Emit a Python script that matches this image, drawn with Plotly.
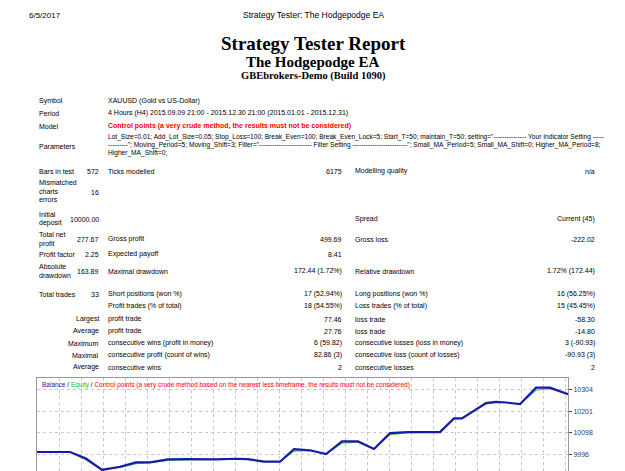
import plotly.graph_objects as go

# chart data
step = [0, 33, 49, 65, 83, 99, 113, 131, 151, 171, 179, 199, 211, 227, 243, 257,
        273, 289, 305, 321, 337, 353, 371, 403, 417, 425, 449, 459, 469, 483, 499, 513, 531]
balance = [10008, 10008, 9977, 9923, 9938, 9959, 9959, 9973, 9974, 9973, 9973, 9976, 9974,
           9962, 9962, 10021, 10016, 9998, 10058, 10058, 10022, 10097, 10102, 10102, 10167,
           10167, 10239, 10245, 10242, 10234, 10312, 10312, 10281]
equity = [10008, 10008, 9970, 9926, 9934, 9953, 9958, 9968, 9970, 9972, 9973, 9974, 9972,
          9962, 9962, 10012, 10015, 9998, 10050, 10055, 10022, 10090, 10100, 10102, 10165,
          10167, 10236, 10243, 10242, 10234, 10300, 10308, 10281]
y_ticks = [9996, 10098, 10201, 10304]

W, H = 625, 471
L, R, T = 37, 568, 378


def px(x):
    return (x - L) / (R - L)


def py(y):
    return (H - y) / (H - T)


fig = go.Figure()
fig.add_trace(go.Scatter(x=step, y=equity, mode="lines", line=dict(color="#44cc44", width=1.2)))
fig.add_trace(go.Scatter(x=step, y=balance, mode="lines", line=dict(color="#1a1aaa", width=2.2)))

notes = []


def txt(x, y, s, size=7, color="#000", anchor="left", bold=False, font="Liberation Sans"):
    if bold:
        s = "<b>" + s + "</b>"
    notes.append(dict(x=px(x), y=py(y), xref="paper", yref="paper", text=s, showarrow=False,
                      xanchor=anchor, yanchor="middle", align=anchor,
                      font=dict(size=size, color=color, family=font)))


txt(27, 15, "6/5/2017", 8)
txt(313, 15, "Strategy Tester: The Hodgepodge EA", 8.5, anchor="center")
txt(313, 44, "Strategy Tester Report", 19, anchor="center", bold=True, font="Liberation Serif")
txt(313, 62, "The Hodgepodge EA", 15, anchor="center", bold=True, font="Liberation Serif")
txt(313, 76, "GBEbrokers-Demo (Build 1090)", 10.5, anchor="center", bold=True, font="Liberation Serif")

txt(37, 101, "Symbol")
txt(106, 101, "XAUUSD (Gold vs US-Dollar)")
txt(37, 113, "Period")
txt(106, 113, "4 Hours (H4) 2015.09.09 21:00 - 2015.12.30 21:00 (2015.01.01 - 2015.12.31)")
txt(37, 126, "Model")
txt(106, 126, "Control points (a very crude method, the results must not be considered)", color="red", bold=True)
txt(37, 146, "Parameters")
txt(106, 137, "Lot_Size=0.01; Add_Lot_Size=0.05; Stop_Loss=100; Break_Even=100; Break_Even_Lock=5; Start_T=50; maintain_T=50; setting=\"--------------- Your Indicator Setting -----", 6.6)
txt(106, 145, "---------\"; Moving_Period=5; Moving_Shift=3; Filter=\"------------------------ Filter Setting -------------------------\"; Small_MA_Period=5; Small_MA_Shift=0; Higher_MA_Period=8;", 6.6)
txt(106, 153, "Higher_MA_Shift=0;", 6.6)

txt(37, 171, "Bars in test")
txt(101, 171, "572", anchor="right")
txt(106, 171, "Ticks modelled")
txt(344, 171, "6175", anchor="right")
txt(353, 171, "Modelling quality")
txt(597, 171, "n/a", anchor="right")
txt(37, 182, "Mismatched")
txt(37, 191, "charts")
txt(37, 199, "errors")
txt(101, 192, "16", anchor="right")

txt(37, 215, "Initial")
txt(37, 223, "deposit")
txt(101, 219, "10000.00", anchor="right")
txt(353, 219, "Spread")
txt(597, 219, "Current (45)", anchor="right")

rows = [
    (239, "Total net<br>profit", "277.67", "Gross profit", "499.69", "Gross loss", "-222.02"),
    (254, "Profit factor", "2.25", "Expected payoff", "8.41", "", ""),
    (271, "Absolute<br>drawdown", "163.89", "Maximal drawdown", "172.44 (1.72%)", "Relative drawdown", "1.72% (172.44)"),
    (294, "Total trades", "33", "Short positions (won %)", "17 (52.94%)", "Long positions (won %)", "16 (56.25%)"),
    (306, "", "", "Profit trades (% of total)", "18 (54.55%)", "Loss trades (% of total)", "15 (45.45%)"),
]
for y, a, b, c, d, e, f in rows:
    txt(37, y, a)
    txt(101, y, b, anchor="right")
    txt(106, y, c)
    txt(344, y, d, anchor="right")
    txt(353, y, e)
    txt(597, y, f, anchor="right")

rows2 = [
    (319, "Largest", "profit trade", "77.46", "loss trade", "-58.30"),
    (331, "Average", "profit trade", "27.76", "loss trade", "-14.80"),
    (343, "Maximum", "consecutive wins (profit in money)", "6 (59.82)", "consecutive losses (loss in money)", "3 (-90.93)"),
    (355, "Maximal", "consecutive profit (count of wins)", "82.86 (3)", "consecutive loss (count of losses)", "-90.93 (3)"),
    (367, "Average", "consecutive wins", "2", "consecutive losses", "2"),
]
for y, a, c, d, e, f in rows2:
    txt(101, y, a, anchor="right")
    txt(106, y, c)
    txt(344, y, d, anchor="right")
    txt(353, y, e)
    txt(597, y, f, anchor="right")

txt(40, 385, "<span style='color:#1a1aaa'>Balance</span> / <span style='color:#22bb22'>Equity</span> / "
    "<span style='color:red'>Control points (a very crude method based on the nearest less timeframe, "
    "the results must not be considered)</span>", 6.5)

fig.update_layout(
    width=W, height=H, margin=dict(l=L, r=W - R, t=T, b=0),
    paper_bgcolor="white", plot_bgcolor="white", showlegend=False,
    annotations=notes,
)
fig.update_xaxes(range=[0, 531], dtick=22, showticklabels=False, showgrid=True,
                 gridcolor="#c8c8c8", griddash="dot", zeroline=False,
                 showline=True, linecolor="#999", mirror=True)
fig.update_yaxes(range=[9918, 10358], tickvals=y_ticks, tickformat="d", side="right", showgrid=True,
                 gridcolor="#c8c8c8", griddash="dot", zeroline=False, ticks="outside", ticklen=3,
                 tickfont=dict(size=7, family="Liberation Sans"),
                 showline=True, linecolor="#999", mirror=True)

fig.write_html("out.html", config={"displayModeBar": False},
               post_script="document.body.style.margin='0';")
